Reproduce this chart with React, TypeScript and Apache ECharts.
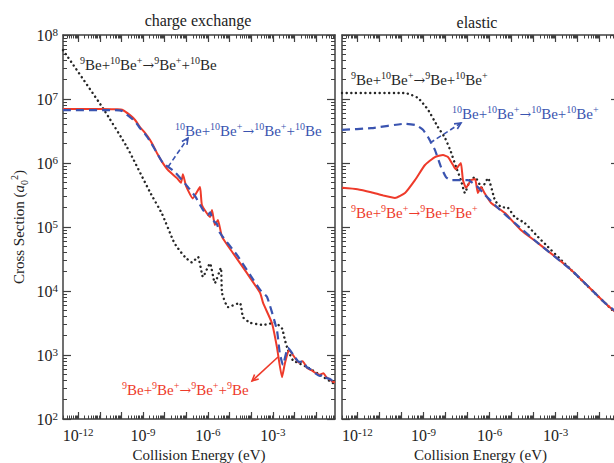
import React, { useEffect, useRef } from 'react';
import * as echarts from 'echarts';

const SERIF = '"Liberation Serif", "DejaVu Serif", serif';
const ARROW_FONT = '"DejaVu Serif", "Liberation Serif", serif';
const RED = '#ee3a2a';
const BLUE = '#3a54b0';
const DOT = '#262626';
const AXIS = '#404040';

const X_MIN = 2e-13;
const X_MAX = 0.75;
const Y_MIN = 1e2;
const Y_MAX = 1e8;

const xTickLabels = [1e-12, 1e-9, 1e-6, 1e-3];
const yTickLabels = [1e2, 1e3, 1e4, 1e5, 1e6, 1e7, 1e8];
const xDecades = [1e-13, 1e-12, 1e-11, 1e-10, 1e-9, 1e-8, 1e-7, 1e-6, 1e-5, 1e-4, 1e-3, 1e-2, 1e-1, 1];
const yDecades = [1e2, 1e3, 1e4, 1e5, 1e6, 1e7, 1e8];
const minorMultipliers = [2, 3, 4, 5, 6, 7, 8, 9];

// charge exchange panel
const cxDotted: number[][] = [
  [2e-13, 5.8e7], [3.4e-13, 4.5e7], [1.4e-11, 7.2e6], [1.8e-10, 1.78e6], [2.1e-9, 3.5e5],
  [7.6e-9, 1.6e5], [2.4e-8, 6.3e4], [3.5e-8, 5.0e4], [8.7e-8, 3.4e4], [1.8e-7, 2.8e4],
  [3.5e-7, 3.4e4], [5.9e-7, 1.66e4], [1.25e-6, 2.7e4], [2.1e-6, 1.33e4], [4.0e-6, 2.3e4],
  [4.5e-6, 9.3e3], [8.5e-6, 5.6e3], [3.0e-5, 6.5e3], [4.2e-5, 3.9e3], [8.8e-5, 3.2e3],
  [3.55e-4, 2.95e3], [1.26e-3, 3.2e3], [2.66e-3, 2.6e3], [3.65e-3, 1.7e3], [5.0e-3, 1.2e3],
  [8.5e-3, 8.3e2], [3.8e-2, 6.5e2], [0.15, 4.9e2], [0.6, 3.65e2], [0.75, 3.5e2],
];
const cxRed: number[][] = [
  [2e-13, 7.0e6], [1e-11, 7.0e6], [6.3e-11, 6.9e6], [1.07e-10, 6.8e6], [2.5e-10, 5.6e6],
  [4.3e-10, 4.7e6], [7.2e-10, 3.65e6], [1.23e-9, 2.95e6], [2.1e-9, 2.3e6], [3.2e-9, 1.78e6],
  [4.4e-9, 1.43e6], [7.6e-9, 1.04e6], [1.4e-8, 7.8e5], [3.7e-8, 5.8e5], [5.7e-8, 4.9e5],
  [7.0e-8, 6.7e5], [9.7e-8, 4.4e5], [2.0e-7, 2.8e5], [4.3e-7, 4.2e5], [5.3e-7, 2.2e5],
  [1.25e-6, 1.43e5], [1.55e-6, 1.85e5], [2.1e-6, 1.07e5], [2.9e-6, 1.29e5], [4.5e-6, 7.0e4],
  [1.45e-5, 3.9e4], [6.4e-5, 1.9e4], [2.6e-4, 9.3e3], [3.55e-4, 6.5e3], [9.1e-4, 3.16e3],
  [1.55e-3, 1.33e3], [2.66e-3, 4.5e2], [3.65e-3, 7.5e2], [5.6e-3, 1.2e3], [1.06e-2, 9.0e2],
  [1.6e-2, 7.6e2], [2.4e-2, 8.0e2], [3.8e-2, 6.3e2], [6e-2, 5.8e2], [9e-2, 5.3e2],
  [0.15, 4.9e2], [0.22, 5.2e2], [0.3, 4.5e2], [0.45, 4.1e2], [0.6, 3.8e2], [0.75, 3.75e2],
];
const cxBlue: number[][] = [
  [2e-13, 6.7e6], [5e-11, 6.7e6], [1.07e-10, 6.5e6], [2.5e-10, 5.2e6], [4.3e-10, 4.5e6],
  [7.2e-10, 3.5e6], [1.23e-9, 2.85e6], [2.1e-9, 2.2e6], [4.4e-9, 1.43e6], [8.4e-9, 1.0e6],
  [3.0e-8, 7.2e5], [1.2e-7, 4.2e5], [2.6e-7, 3.0e5], [5.9e-7, 1.85e5], [1.0e-6, 1.55e5],
  [1.3e-6, 1.7e5], [1.6e-6, 1.3e5], [2.6e-6, 1.12e5], [3.6e-6, 8.1e4], [2.2e-5, 3.65e4],
  [8.8e-5, 1.8e4], [2.6e-4, 1.04e4], [5.4e-4, 8.1e3], [1.55e-3, 2.45e3], [2.1e-3, 1.07e3],
  [2.95e-3, 7.0e2], [5.0e-3, 1.3e3], [1.06e-2, 9.2e2], [1.6e-2, 7.8e2], [2.4e-2, 7.9e2],
  [3.8e-2, 6.4e2], [6e-2, 5.9e2], [9e-2, 5.2e2], [0.15, 4.7e2], [0.22, 5.0e2],
  [0.3, 4.4e2], [0.45, 4.2e2], [0.6, 3.9e2], [0.75, 3.85e2],
];

// elastic panel
const elDotted: number[][] = [
  [2e-13, 1.24e7], [1.45e-10, 1.24e7], [5.6e-10, 1.04e7], [1.6e-9, 6.8e6], [4.5e-9, 3.65e6],
  [9.5e-9, 2.46e6], [1.77e-8, 1.48e6], [3.0e-8, 8.7e5], [5.0e-8, 5.4e5], [7.6e-8, 3.4e5],
  [1.29e-7, 5.4e5], [2.2e-7, 6.0e5], [4.5e-7, 4.1e5], [8.5e-7, 5.8e5], [1.76e-6, 2.6e5],
  [3.3e-6, 2.05e5], [6.8e-6, 2.0e5], [1.4e-5, 1.43e5], [4.0e-5, 1.15e5], [1.58e-4, 7.0e4],
  [4.95e-3, 2.15e4], [0.174, 6.5e3], [0.75, 4.0e3],
];
const elRed: number[][] = [
  [2e-13, 4.1e5], [1e-12, 3.9e5], [4.2e-12, 3.5e5], [1.5e-11, 3.1e5], [5.1e-11, 2.84e5],
  [1.45e-10, 3.4e5], [4.1e-10, 5.4e5], [1.17e-9, 9.3e5], [3.3e-9, 1.24e6], [7.7e-9, 1.33e6],
  [1.29e-8, 1.24e6], [2.2e-8, 9.3e5], [2.9e-8, 8.0e5], [3.7e-8, 8.8e5], [5.0e-8, 1.0e6],
  [6.2e-8, 5.4e5], [8.5e-8, 4.1e5], [1.44e-7, 5.4e5], [2.2e-7, 5.6e5], [2.95e-7, 3.4e5],
  [4.1e-7, 4.2e5], [6.2e-7, 3.3e5], [1.15e-6, 2.4e5], [5.0e-6, 1.65e5], [2.7e-5, 8.9e4],
  [1.58e-4, 5.6e4], [4.95e-3, 2.15e4], [0.174, 6.5e3], [0.75, 4.2e3],
];
const elBlue: number[][] = [
  [2e-13, 3.3e6], [4.2e-12, 3.5e6], [1.45e-10, 4.1e6], [4.6e-10, 3.9e6], [9.5e-10, 3.3e6],
  [1.6e-9, 2.55e6], [3.3e-9, 1.6e6], [6.2e-9, 8.7e5], [1.05e-8, 6.0e5], [1.77e-8, 5.4e5],
  [1.05e-7, 5.4e5], [2.95e-7, 4.2e5], [6.2e-7, 3.16e5], [2.4e-6, 1.98e5], [1.4e-5, 1.15e5],
  [1.58e-4, 5.6e4], [4.95e-3, 2.15e4], [0.174, 6.5e3], [0.75, 4.4e3],
];

const minorOf = (decades: number[]) => {
  const out: number[] = [];
  decades.forEach((d) => minorMultipliers.forEach((m) => out.push(d * m)));
  return out;
};

const tickRich = {
  b: { fontFamily: SERIF, fontSize: 16, color: '#222', lineHeight: 18 },
  s: { fontFamily: SERIF, fontSize: 11, color: '#222', lineHeight: 11, verticalAlign: 'top' },
};
const expFormatter = (v: number) => `{b|10}{s|${Math.round(Math.log10(v))}}`;

const chemRich = {
  n: { fontFamily: SERIF, fontSize: 15, lineHeight: 20 },
  a: { fontFamily: ARROW_FONT, fontSize: 14, lineHeight: 20 },
  s: { fontFamily: SERIF, fontSize: 10, lineHeight: 11, verticalAlign: 'top' },
};

function xAxesFor(grid: number) {
  const base: any = {
    type: 'log', logBase: 10, min: X_MIN, max: X_MAX, gridIndex: grid,
    splitLine: { show: false }, minorTick: { show: false }, minorSplitLine: { show: false },
  };
  const line = { show: true, onZero: false, lineStyle: { color: AXIS, width: 1.5 } };
  const major = { show: true, inside: true, length: 7, customValues: xDecades, lineStyle: { color: AXIS, width: 1.2 } };
  const minor = { show: true, inside: true, length: 3.5, customValues: minorOf(xDecades), lineStyle: { color: AXIS, width: 1 } };
  return [
    {
      ...base, position: 'bottom', axisLine: line, axisTick: major,
      axisLabel: { show: true, customValues: xTickLabels, formatter: expFormatter, rich: tickRich, margin: 7 },
      name: 'Collision Energy (eV)', nameLocation: 'middle', nameGap: 27,
      nameTextStyle: { fontFamily: SERIF, fontSize: 15, color: '#222' },
    },
    { ...base, position: 'bottom', axisLine: { show: false }, axisTick: minor, axisLabel: { show: false } },
    { ...base, position: 'top', axisLine: line, axisTick: major, axisLabel: { show: false } },
    { ...base, position: 'top', axisLine: { show: false }, axisTick: minor, axisLabel: { show: false } },
  ];
}

function yAxesFor(grid: number) {
  const base: any = {
    type: 'log', logBase: 10, min: Y_MIN, max: Y_MAX, gridIndex: grid,
    splitLine: { show: false }, minorTick: { show: false }, minorSplitLine: { show: false },
  };
  const line = { show: true, onZero: false, lineStyle: { color: AXIS, width: 1.5 } };
  const major = { show: true, inside: true, length: 8, customValues: yDecades, lineStyle: { color: AXIS, width: 1.2 } };
  const minor = { show: true, inside: true, length: 4, customValues: minorOf(yDecades), lineStyle: { color: AXIS, width: 1 } };
  const leftMain: any = { ...base, position: 'left', axisLine: line, axisTick: major, axisLabel: { show: false } };
  if (grid === 0) {
    leftMain.axisLabel = { show: true, customValues: yTickLabels, formatter: expFormatter, rich: tickRich, margin: 5 };
    leftMain.name = '{n|Cross Section (}{i|a}{sub|0}{sup|2}{n|)}';
    leftMain.nameLocation = 'middle';
    leftMain.nameGap = 34;
    leftMain.nameRotate = 90;
    leftMain.nameTextStyle = {
      rich: {
        n: { fontFamily: SERIF, fontSize: 15, color: '#222', lineHeight: 20 },
        i: { fontFamily: SERIF, fontSize: 15, fontStyle: 'italic', color: '#222', lineHeight: 20 },
        sub: { fontFamily: SERIF, fontSize: 10, color: '#222', lineHeight: 10, verticalAlign: 'bottom' },
        sup: { fontFamily: SERIF, fontSize: 10, color: '#222', lineHeight: 10, verticalAlign: 'top' },
      },
    };
  }
  return [
    leftMain,
    { ...base, position: 'left', axisLine: { show: false }, axisTick: minor, axisLabel: { show: false } },
    { ...base, position: 'right', axisLine: line, axisTick: major, axisLabel: { show: false } },
    { ...base, position: 'right', axisLine: { show: false }, axisTick: minor, axisLabel: { show: false } },
  ];
}

function lineSeries(data: number[][], grid: number, kind: 'dot' | 'red' | 'blue') {
  const style: any =
    kind === 'dot'
      ? { color: DOT, width: 2.4, type: [0.1, 4.6], cap: 'round' }
      : kind === 'red'
      ? { color: RED, width: 2 }
      : { color: BLUE, width: 2.2, type: [8, 5] };
  return {
    type: 'line', data, xAxisIndex: grid * 4, yAxisIndex: grid * 4,
    showSymbol: false, symbol: 'none', smooth: 0.15, silent: true, clip: true,
    lineStyle: style, itemStyle: { color: style.color },
    z: kind === 'dot' ? 2 : kind === 'red' ? 3 : 4,
  };
}

function chemText(x: number, y: number, text: string, color: string) {
  return {
    type: 'text', x, y, silent: true,
    style: {
      text, rich: chemRich, fill: color, font: `15px ${SERIF}`,
      align: 'left', verticalAlign: 'middle', textAlign: 'left', textVerticalAlign: 'middle',
    },
  };
}

function arrow(x1: number, y1: number, x2: number, y2: number, color: string, dashed: boolean) {
  const a = Math.atan2(y2 - y1, x2 - x1);
  const L = 7;
  const w = 0.45;
  const p1 = [x2 - L * Math.cos(a - w), y2 - L * Math.sin(a - w)];
  const p2 = [x2 - L * Math.cos(a + w), y2 - L * Math.sin(a + w)];
  return [
    {
      type: 'line', silent: true,
      shape: { x1, y1, x2, y2 },
      style: { stroke: color, lineWidth: 1.6, lineDash: dashed ? [5, 3] : null },
    },
    {
      type: 'polyline', silent: true,
      shape: { points: [p1, [x2, y2], p2] },
      style: { stroke: color, lineWidth: 1.6, fill: null },
    },
  ];
}

function titleText(cx: number, cy: number, text: string) {
  return {
    type: 'text', x: cx, y: cy, silent: true,
    style: {
      text, fill: '#222', font: `16px ${SERIF}`,
      align: 'center', verticalAlign: 'middle', textAlign: 'center', textVerticalAlign: 'middle',
    },
  };
}

export default function App() {
  const ref = useRef<HTMLDivElement>(null);
  useEffect(() => {
    if (!ref.current) return;
    const chart = echarts.init(ref.current, null, { renderer: 'svg' });
    const option: any = {
      animation: false,
      backgroundColor: '#ffffff',
      grid: [
        { left: 63, top: 35, width: 272, height: 384, outerBoundsMode: 'none', containLabel: false },
        { left: 342, top: 35, width: 277, height: 384, outerBoundsMode: 'none', containLabel: false },
      ],
      xAxis: [...xAxesFor(0), ...xAxesFor(1)],
      yAxis: [...yAxesFor(0), ...yAxesFor(1)],
      series: [
        lineSeries(cxDotted, 0, 'dot'),
        lineSeries(cxRed, 0, 'red'),
        lineSeries(cxBlue, 0, 'blue'),
        lineSeries(elDotted, 1, 'dot'),
        lineSeries(elRed, 1, 'red'),
        lineSeries(elBlue, 1, 'blue'),
      ],
      graphic: [
        titleText(198, 20, 'charge exchange'),
        titleText(477, 22, 'elastic'),
        chemText(80, 65, '{s|9}{n|Be+}{s|10}{n|Be}{s|+}{a|→}{s|9}{n|Be}{s|+}{n|+}{s|10}{n|Be}', DOT),
        chemText(175, 131, '{s|10}{n|Be+}{s|10}{n|Be}{s|+}{a|→}{s|10}{n|Be}{s|+}{n|+}{s|10}{n|Be}', BLUE),
        chemText(122, 390, '{s|9}{n|Be+}{s|9}{n|Be}{s|+}{a|→}{s|9}{n|Be}{s|+}{n|+}{s|9}{n|Be}', RED),
        chemText(351, 80, '{s|9}{n|Be+}{s|10}{n|Be}{s|+}{a|→}{s|9}{n|Be+}{s|10}{n|Be}{s|+}', DOT),
        chemText(452, 114, '{s|10}{n|Be+}{s|10}{n|Be}{s|+}{a|→}{s|10}{n|Be+}{s|10}{n|Be}{s|+}', BLUE),
        chemText(351, 213, '{s|9}{n|Be+}{s|9}{n|Be}{s|+}{a|→}{s|9}{n|Be+}{s|9}{n|Be}{s|+}', RED),
        ...arrow(168, 167, 188, 138, BLUE, true),
        ...arrow(278, 357, 252, 381, RED, false),
        ...arrow(430, 143, 461, 123, BLUE, true),
      ],
    };
    chart.setOption(option);
    return () => chart.dispose();
  }, []);
  return (
    <div
      ref={ref}
      style={{ position: 'absolute', left: 0, top: 0, width: 614, height: 463, background: '#fff' }}
    />
  );
}
